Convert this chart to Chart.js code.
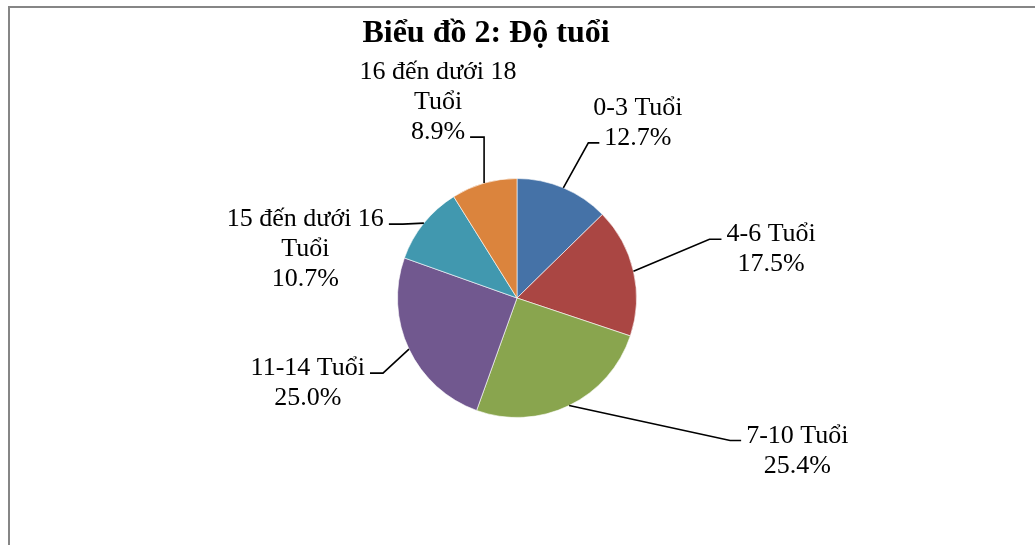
<!DOCTYPE html>
<html>
<head>
<meta charset="utf-8">
<script src="https://cdn.jsdelivr.net/npm/chart.js@4"></script>
<style>
  body { margin: 0; background: #fff; width: 1035px; height: 545px; overflow: hidden; position: relative; }
  #frame { position: absolute; left: 8px; top: 6px; width: 1200px; height: 700px; border: 2px solid #868686; }
  #box { position: absolute; left: 8px; top: 0; width: 956px; height: 545px; }
</style>
</head>
<body>
<div id="frame"></div>
<div id="box"><canvas id="ageChart"></canvas></div>
<script>
const chartTitle = 'Biểu đồ 2: Độ tuổi';
const ageGroups = ['0-3 Tuổi', '4-6 Tuổi', '7-10 Tuổi', '11-14 Tuổi', '15 đến dưới 16 Tuổi', '16 đến dưới 18 Tuổi'];
const percents = [12.7, 17.5, 25.4, 25.0, 10.7, 8.9];
const sliceColors = ['#4572A7', '#AA4643', '#89A54E', '#71588F', '#4198AF', '#DB843D'];

// where Excel put each label: elbow offset from the slice edge, side of the text, line the leader hits
const labelPlaces = [
  { dx: 25, dy: -45, side: 1, h: 11, attach: 1 },
  { dx: 76, dy: -32, side: 1, h: 12, attach: 0 },
  { dx: 161, dy: 35, side: 1, h: 11, attach: 0 },
  { dx: -26, dy: 24, side: -1, h: 13, attach: 0 },
  { dx: -21, dy: 1, side: -1, h: 14, attach: 0 },
  { dx: 0, dy: -46, side: -1, h: 14, attach: 2 }
];

function wrapWords(ctx, text, maxW) {
  const words = text.split(' ');
  const lines = [];
  let cur = '';
  words.forEach(w => {
    const test = cur ? cur + ' ' + w : w;
    if (cur && ctx.measureText(test).width > maxW) {
      lines.push(cur);
      cur = w;
    } else {
      cur = test;
    }
  });
  if (cur) lines.push(cur);
  return lines;
}

// title sits over the whole chart box, not over the (offset) pie
const boxTitle = {
  id: 'boxTitle',
  afterDraw(chart) {
    const ctx = chart.ctx;
    ctx.save();
    ctx.font = 'bold 32px "Liberation Serif", "Times New Roman", serif';
    ctx.fillStyle = '#000';
    ctx.textAlign = 'center';
    ctx.textBaseline = 'alphabetic';
    ctx.fillText(chartTitle, chart.width / 2, 42);
    ctx.restore();
  }
};

const leaderLabels = {
  id: 'leaderLabels',
  afterDatasetsDraw(chart) {
    const ctx = chart.ctx;
    const meta = chart.getDatasetMeta(0);
    ctx.save();
    ctx.font = '26px "Liberation Serif", "Times New Roman", serif';
    ctx.fillStyle = '#000';
    ctx.strokeStyle = '#000';
    ctx.lineWidth = 1.6;
    meta.data.forEach((arc, i) => {
      const p = arc.getProps(['x', 'y', 'startAngle', 'endAngle', 'outerRadius'], true);
      const mid = (p.startAngle + p.endAngle) / 2;
      const ex = p.x + Math.cos(mid) * p.outerRadius;
      const ey = p.y + Math.sin(mid) * p.outerRadius;
      const pl = labelPlaces[i];
      const bx = ex + pl.dx, by = ey + pl.dy;
      const endX = bx + pl.side * pl.h;

      ctx.beginPath();
      ctx.moveTo(ex, ey);
      ctx.lineTo(bx, by);
      ctx.lineTo(endX, by);
      ctx.stroke();

      const lines = wrapWords(ctx, chart.data.labels[i], 200);
      lines.push(percents[i].toFixed(1) + '%');
      const attW = ctx.measureText(lines[pl.attach]).width;
      const cx = endX + pl.side * (5 + attW / 2);
      ctx.textAlign = 'center';
      ctx.textBaseline = 'alphabetic';
      lines.forEach((ln, k) => {
        ctx.fillText(ln, cx, by + 2 + (k - pl.attach) * 30);
      });
    });
    ctx.restore();
  }
};

new Chart(document.getElementById('ageChart'), {
  type: 'pie',
  data: {
    labels: ageGroups,
    datasets: [{
      data: percents,
      backgroundColor: sliceColors,
      borderColor: 'rgba(255,255,255,0.6)',
      borderWidth: 1
    }]
  },
  options: {
    responsive: true,
    maintainAspectRatio: false,
    animation: false,
    layout: { padding: { top: 178, bottom: 127, left: 62, right: 0 } },
    plugins: {
      legend: { display: false },
      tooltip: { enabled: false },
      title: { display: false }
    }
  },
  plugins: [leaderLabels, boxTitle]
});
</script>
</body>
</html>
